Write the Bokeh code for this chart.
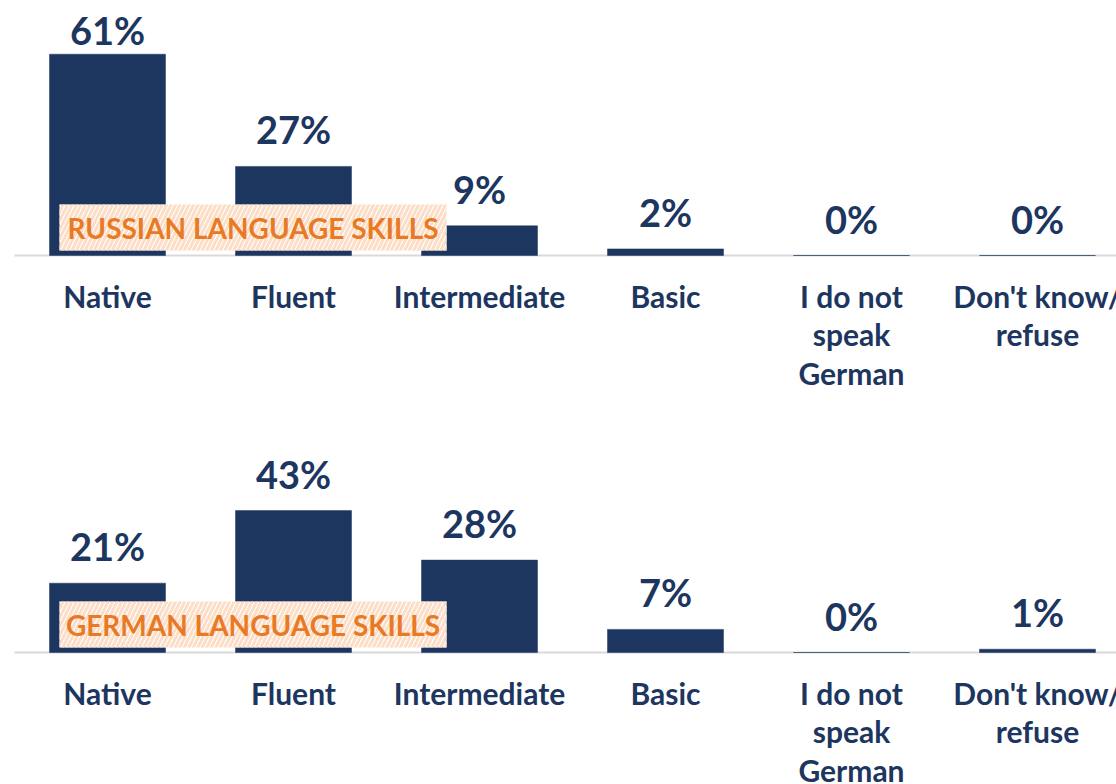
from bokeh.plotting import figure
from bokeh.layouts import column
from bokeh.core.properties import value
from bokeh.embed import file_html
from bokeh.resources import INLINE

categories = ["Native", "Fluent", "Intermediate", "Basic",
              "I do not\nspeak\nGerman", "Don't know/\nrefuse"]
russian = [61, 27, 9, 2, 0, 0]
german = [21, 43, 28, 7, 0, 1]
titles = ["RUSSIAN LANGUAGE SKILLS", "GERMAN LANGUAGE SKILLS"]

NAVY = "#1D3660"
ORANGE = "#E97A25"
FONT = "Lato"
PX_PER_PCT = 3.3
SPACING = 186.0
W = 1116
LEFT_PX = 107  # pixel distance from figure left to first category centre


def panel(vals, title, height, base_px):
    n = len(categories)
    xs = list(range(n))
    x_start = -LEFT_PX / SPACING
    x_end = x_start + W / SPACING
    y_end = base_px / PX_PER_PCT
    y_start = -(height - base_px) / PX_PER_PCT
    p = figure(width=W, height=height, x_range=(x_start, x_end),
               y_range=(y_start, y_end), output_backend="svg",
               toolbar_location=None, min_border=0)
    p.axis.visible = False
    p.grid.visible = False
    p.outline_line_color = None
    p.background_fill_color = "white"
    p.border_fill_color = "white"

    p.segment(x0=[-0.5], y0=[0], x1=[n - 0.5], y1=[0],
              line_color="#D9D9D9", line_width=2)
    p.vbar(x=xs, top=vals, bottom=0, width=116 / SPACING,
           fill_color=NAVY, line_color=NAVY, line_width=0.5)
    # keep labels inside the plot area (as the original chart does)
    label_y = [min(v, y_end - 20) for v in vals]
    p.text(x=xs, y=label_y, text=[f"{v}%" for v in vals],
           text_align="center", text_baseline="bottom", y_offset=-14,
           text_color=NAVY, text_font=value(FONT), text_font_style="bold",
           text_font_size="38px")
    p.text(x=xs, y=[0] * n, text=categories,
           text_align="center", text_baseline="top", y_offset=22,
           text_color=NAVY, text_font=value(FONT), text_font_style="bold",
           text_font_size="30px", text_line_height=1.08)

    bl, br, bb, bt = -0.258, 1.823, 1.5, 15.45
    p.quad(left=[bl], right=[br], bottom=[bb], top=[bt],
           fill_color="white", line_color=None,
           hatch_pattern="/", hatch_color="#FCDDC6",
           hatch_weight=3, hatch_scale=9)
    p.text(x=[(bl + br) / 2], y=[(bb + bt) / 2], text=[title],
           text_align="center", text_baseline="middle",
           text_color=ORANGE, text_font=value(FONT), text_font_style="bold",
           text_font_size="28px")
    return p


p1 = panel(russian, titles[0], 415, 255)
p2 = panel(german, titles[1], 369, 237)
layout = column(p1, p2, spacing=0)

open("out.html", "w").write(file_html(layout, INLINE))
